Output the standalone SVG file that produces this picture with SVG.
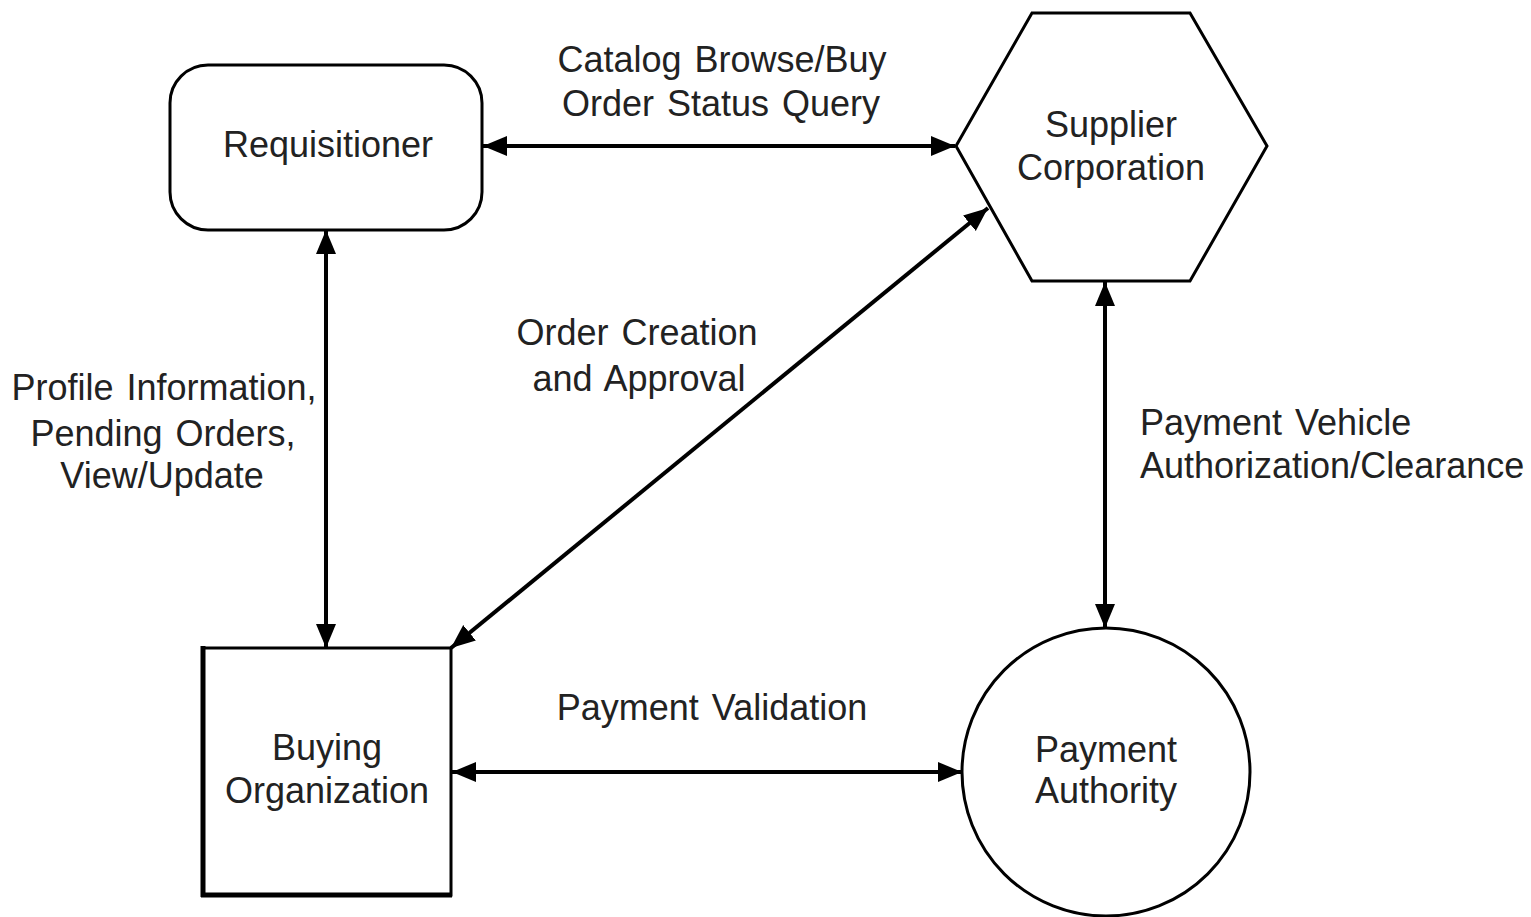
<svg xmlns="http://www.w3.org/2000/svg" width="1531" height="917" viewBox="0 0 1531 917">
<style>
.shape{fill:#fff;stroke:#000;stroke-width:3}
.t{font-family:"Liberation Sans",Arial,sans-serif;font-size:36px;fill:#222;text-anchor:middle;word-spacing:3px}
.l{text-anchor:start}
.c{stroke:#000;stroke-width:4;fill:none;marker-start:url(#ah);marker-end:url(#ah)}
</style>
<defs>
<marker id="ah" markerUnits="userSpaceOnUse" markerWidth="26" markerHeight="22" refX="24" refY="10" orient="auto-start-reverse" viewBox="0 0 26 22">
<path d="M0,0 L24,10 L0,20 z" fill="#000"/>
</marker>
</defs>
<rect width="1531" height="917" fill="#fff"/>
<g id="connectors">
<line class="c" x1="483" y1="146" x2="955" y2="146"/>
<line class="c" x1="326" y1="230" x2="326" y2="648"/>
<line class="c" x1="988" y1="208" x2="451" y2="648"/>
<line class="c" x1="1105" y1="282" x2="1105" y2="628"/>
<line class="c" x1="452" y1="772" x2="962" y2="772"/>
</g>
<g id="requisitioner">
<rect class="shape" x="170" y="65" width="312" height="165" rx="38" ry="38"/>
<text class="t" x="328" y="157">Requisitioner</text>
</g>
<g id="supplier">
<polygon class="shape" points="1032,13 1190,13 1267,146 1190,281 1032,281 956,146"/>
<text class="t" x="1111" y="137">Supplier</text>
<text class="t" x="1111" y="180">Corporation</text>
</g>
<g id="buying">
<rect class="shape" x="203" y="648" width="248" height="247"/>
<line x1="203" y1="646" x2="203" y2="897" stroke="#000" stroke-width="5"/>
<line x1="201" y1="895" x2="452" y2="895" stroke="#000" stroke-width="5"/>
<text class="t" x="327" y="760">Buying</text>
<text class="t" x="327" y="803">Organization</text>
</g>
<g id="payment">
<circle class="shape" cx="1106" cy="772" r="144"/>
<text class="t" x="1106" y="762">Payment</text>
<text class="t" x="1106" y="803">Authority</text>
</g>
<g id="labels">
<text class="t" x="722" y="72">Catalog Browse/Buy</text>
<text class="t" x="721" y="116">Order Status Query</text>
<text class="t" x="637" y="345">Order Creation</text>
<text class="t" x="639" y="391">and Approval</text>
<text class="t" x="164" y="400">Profile Information,</text>
<text class="t" x="163" y="446">Pending Orders,</text>
<text class="t" x="162" y="488">View/Update</text>
<text class="t l" x="1140" y="435">Payment Vehicle</text>
<text class="t l" x="1140" y="478">Authorization/Clearance</text>
<text class="t" x="712" y="720">Payment Validation</text>
</g>
</svg>
